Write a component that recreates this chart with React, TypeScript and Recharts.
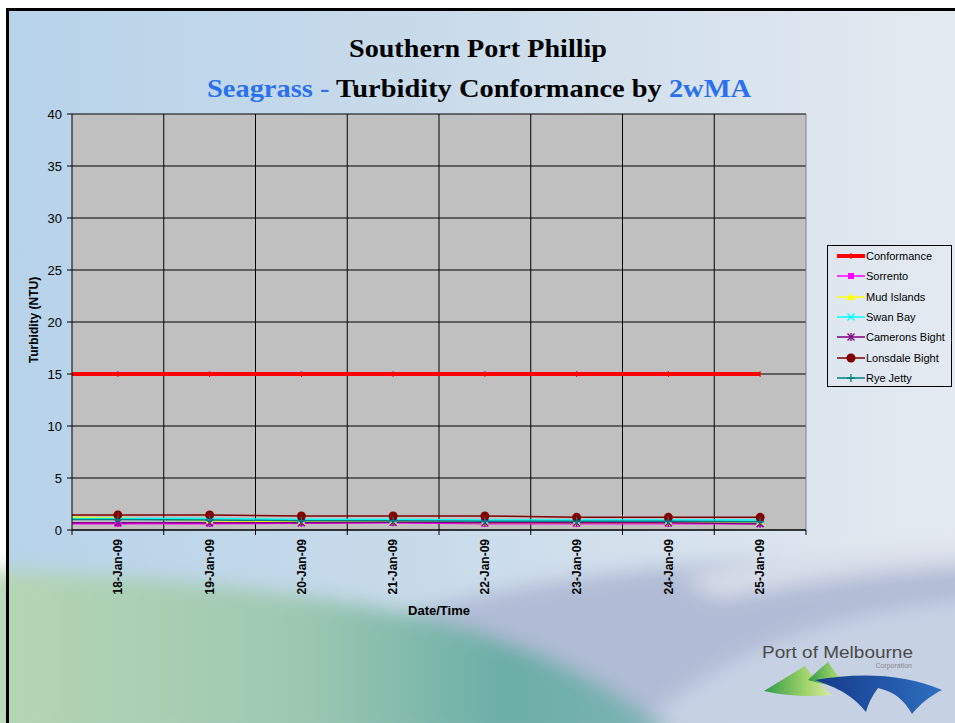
import React from "react";
import { LineChart, Line, XAxis, YAxis, CartesianGrid, ReferenceLine } from "recharts";

// dates on the category axis; the first one sits just off the left edge
const dates = ["17-Jan-09", "18-Jan-09", "19-Jan-09", "20-Jan-09", "21-Jan-09", "22-Jan-09", "23-Jan-09", "24-Jan-09", "25-Jan-09"];
const yTicks = [0, 5, 10, 15, 20, 25, 30, 35, 40];

const conformance = [15, 15, 15, 15, 15, 15, 15, 15, 15];
const sorrento = [0.6, 0.6, 0.6, 0.65, 0.7, 0.6, 0.6, 0.6, 0.6];
const mudIslands = [1.3, 1.15, 0.9, 0.8, 0.8, 0.7, 0.7, 0.7, 0.8];
const swanBay = [1.1, 1.1, 1.1, 1.0, 1.0, 0.95, 0.95, 0.95, 0.95];
const cameronsBight = [0.7, 0.7, 0.7, 0.7, 0.75, 0.7, 0.7, 0.7, 0.6];
const lonsdaleBight = [1.45, 1.45, 1.45, 1.35, 1.35, 1.35, 1.22, 1.22, 1.22];
const ryeJetty = [1.0, 1.0, 0.95, 0.9, 0.9, 0.85, 0.85, 0.85, 0.8];

const data = dates.map((d, i) => ({
  pos: i - 1,
  date: d,
  conformance: conformance[i],
  sorrento: sorrento[i],
  mudIslands: mudIslands[i],
  swanBay: swanBay[i],
  cameronsBight: cameronsBight[i],
  lonsdaleBight: lonsdaleBight[i],
  ryeJetty: ryeJetty[i],
}));

const shown = dates.slice(1);
// label ticks at category centres, tick marks at category boundaries
const xTicks: number[] = [-0.5];
shown.forEach((_, i) => xTicks.push(i, i + 0.5));

type Shape = "tick" | "square" | "triangle" | "cross" | "star" | "circle" | "plus";

function marker(shape: Shape, color: string, cx: number, cy: number, key?: string) {
  switch (shape) {
    case "tick":
      return <line key={key} x1={cx} x2={cx} y1={cy - 3} y2={cy + 3} stroke={color} strokeWidth={1} />;
    case "square":
      return <rect key={key} x={cx - 3} y={cy - 3} width={6} height={6} fill={color} />;
    case "triangle":
      return <polygon key={key} points={`${cx},${cy - 4} ${cx + 4},${cy + 3} ${cx - 4},${cy + 3}`} fill={color} />;
    case "cross":
      return (
        <g key={key} stroke={color} strokeWidth={1.3}>
          <line x1={cx - 3.5} y1={cy - 3.5} x2={cx + 3.5} y2={cy + 3.5} />
          <line x1={cx - 3.5} y1={cy + 3.5} x2={cx + 3.5} y2={cy - 3.5} />
        </g>
      );
    case "star":
      return (
        <g key={key} stroke={color} strokeWidth={1.3}>
          <line x1={cx - 3.5} y1={cy - 3.5} x2={cx + 3.5} y2={cy + 3.5} />
          <line x1={cx - 3.5} y1={cy + 3.5} x2={cx + 3.5} y2={cy - 3.5} />
          <line x1={cx} y1={cy - 4} x2={cx} y2={cy + 4} />
        </g>
      );
    case "circle":
      return <circle key={key} cx={cx} cy={cy} r={4.5} fill={color} />;
    case "plus":
    default:
      return (
        <g key={key} stroke={color} strokeWidth={1.3}>
          <line x1={cx - 4} y1={cy} x2={cx + 4} y2={cy} />
          <line x1={cx} y1={cy - 4} x2={cx} y2={cy + 4} />
        </g>
      );
  }
}

const series: { key: string; name: string; color: string; width: number; shape: Shape }[] = [
  { key: "conformance", name: "Conformance", color: "#ff0000", width: 4, shape: "tick" },
  { key: "sorrento", name: "Sorrento", color: "#ff00ff", width: 1.5, shape: "square" },
  { key: "mudIslands", name: "Mud Islands", color: "#ffff00", width: 1.5, shape: "triangle" },
  { key: "swanBay", name: "Swan Bay", color: "#00ffff", width: 1.5, shape: "cross" },
  { key: "cameronsBight", name: "Camerons Bight", color: "#800080", width: 1.5, shape: "star" },
  { key: "lonsdaleBight", name: "Lonsdale Bight", color: "#800000", width: 1.5, shape: "circle" },
  { key: "ryeJetty", name: "Rye Jetty", color: "#008080", width: 1.5, shape: "plus" },
];

const XTick = (props: any) => {
  const { x, y, payload } = props;
  const v = payload.value as number;
  if (!Number.isInteger(v)) {
    return <line x1={x} x2={x} y1={y} y2={y + 5} stroke="#000" />;
  }
  return (
    <text
      transform={`translate(${x},${y + 9}) rotate(-90)`}
      textAnchor="end"
      dy="0.35em"
      fontFamily="Liberation Sans, Arial, sans-serif"
      fontWeight="bold"
      fontSize={12}
      fill="#000"
    >
      {dates[v + 1]}
    </text>
  );
};

function Background() {
  return (
    <svg width={955} height={723} style={{ position: "absolute", left: 0, top: 0 }}>
      <defs>
        <linearGradient id="bgSky" x1="0" y1="0" x2="1" y2="0">
          <stop offset="0%" stopColor="#b7d3ea" />
          <stop offset="45%" stopColor="#c9dbea" />
          <stop offset="100%" stopColor="#e5eaf1" />
        </linearGradient>
        <linearGradient id="bgGreen" x1="0" y1="0" x2="1" y2="0">
          <stop offset="0%" stopColor="#b6d6b4" />
          <stop offset="45%" stopColor="#9dc8b1" />
          <stop offset="75%" stopColor="#6aaea7" />
          <stop offset="100%" stopColor="#7fb4b6" />
        </linearGradient>
        <filter id="soft" x="-10%" y="-10%" width="120%" height="120%">
          <feGaussianBlur stdDeviation="10" />
        </filter>
      </defs>
      <rect x={0} y={0} width={955} height={723} fill="#fff" />
      <rect x={6} y={8} width={960} height={730} fill="url(#bgSky)" />
      <g filter="url(#soft)">
        <path d="M 150 740 C 300 610, 550 560, 980 548 L 980 740 Z" fill="#b0bbd5" />
        <path d="M 680 580 C 790 552, 890 542, 980 540 L 980 566 C 890 570, 800 582, 720 598 Z" fill="#e3e7ee" opacity={0.8} />
        <path d="M 630 740 C 700 660, 820 610, 980 598 L 980 740 Z" fill="#c6d1e4" />
        <path d="M -10 570 C 120 574, 300 590, 430 618 C 520 640, 610 680, 680 740 L -10 740 Z" fill="url(#bgGreen)" />
      </g>
      <rect x={6} y={8} width={3} height={730} fill="#000" />
      <rect x={6} y={8} width={960} height={3} fill="#000" />
    </svg>
  );
}

function Titles() {
  return (
    <svg width={955} height={110} style={{ position: "absolute", left: 0, top: 0 }}>
      <text x={349} y={57} fontFamily="'Liberation Serif', serif" fontWeight="bold" fontSize={26} textLength={258} lengthAdjust="spacingAndGlyphs" fill="#000">
        Southern Port Phillip
      </text>
      <text x={207} y={97} fontFamily="'Liberation Serif', serif" fontWeight="bold" fontSize={26} textLength={544} lengthAdjust="spacingAndGlyphs">
        <tspan fill="#2a70f0">Seagrass - </tspan>
        <tspan fill="#000">Turbidity Conformance by </tspan>
        <tspan fill="#2a70f0">2wMA</tspan>
      </text>
    </svg>
  );
}

function Logo() {
  return (
    <svg width={955} height={723} style={{ position: "absolute", left: 0, top: 0 }}>
      <defs>
        <linearGradient id="logoGreen" x1="0" y1="0" x2="1" y2="0">
          <stop offset="0%" stopColor="#2f9a48" />
          <stop offset="60%" stopColor="#9fd36a" />
          <stop offset="100%" stopColor="#d9eaa0" />
        </linearGradient>
        <linearGradient id="logoBlue" x1="0" y1="0" x2="1" y2="0">
          <stop offset="0%" stopColor="#143a8a" />
          <stop offset="100%" stopColor="#2f6fc0" />
        </linearGradient>
      </defs>
      <text x={762} y={658} fontFamily="Liberation Sans, Arial, sans-serif" fontSize={17} fill="#4a4a4a" textLength={151} lengthAdjust="spacingAndGlyphs">
        Port of Melbourne
      </text>
      <text x={912} y={668} textAnchor="end" fontFamily="Liberation Sans, Arial, sans-serif" fontSize={7} fill="#8a8a8a">
        Corporation
      </text>
      <path d="M 764 691 C 778 682, 792 674, 805 666 C 812 676, 820 686, 832 695 C 810 697, 785 696, 764 691 Z" fill="url(#logoGreen)" />
      <path d="M 808 680 C 815 673, 822 667, 828 662 C 835 672, 842 682, 852 690 C 838 688, 822 684, 808 680 Z" fill="url(#logoGreen)" />
      <path d="M 815 680 C 860 672, 905 674, 942 690 C 930 696, 920 704, 912 714 C 904 700, 895 692, 878 688 C 872 696, 868 704, 866 712 C 856 700, 845 690, 815 680 Z" fill="url(#logoBlue)" />
    </svg>
  );
}

function LegendBox() {
  return (
    <div
      style={{
        position: "absolute",
        left: 827,
        top: 245,
        width: 125,
        height: 142,
        border: "1px solid #000",
        boxSizing: "border-box",
        fontFamily: "Liberation Sans, Arial, sans-serif",
        fontSize: 11,
        color: "#000",
        paddingTop: 0,
      }}
    >
      {series.map((s) => (
        <div key={s.key} style={{ display: "flex", alignItems: "center", height: 20.3, whiteSpace: "nowrap" }}>
          <svg width={29} height={12} style={{ marginLeft: 9 }}>
            <line x1={0} x2={28} y1={6} y2={6} stroke={s.color} strokeWidth={s.key === "conformance" ? 4 : 1.5} />
            {marker(s.shape, s.color, 14, 6)}
          </svg>
          <span>{s.name}</span>
        </div>
      ))}
    </div>
  );
}

export default function App() {
  return (
    <div style={{ position: "absolute", left: 0, top: 0, width: 955, height: 723, overflow: "hidden" }}>
      <Background />
      <Titles />
      <div style={{ position: "absolute", left: 0, top: 0 }}>
        <LineChart width={955} height={723} data={data} margin={{ top: 114, right: 149, bottom: 133, left: 32 }}>
          <CartesianGrid vertical={false} stroke="#000" fill="#c0c0c0" fillOpacity={1} />
          <XAxis
            dataKey="pos"
            type="number"
            domain={[-0.5, 7.5]}
            allowDataOverflow
            ticks={xTicks}
            interval={0}
            tick={<XTick />}
            tickLine={false}
            tickSize={0}
            tickMargin={0}
            axisLine={{ stroke: "#000" }}
            height={60}
          />
          <YAxis
            type="number"
            domain={[0, 40]}
            ticks={yTicks}
            interval={0}
            width={40}
            tickSize={5}
            tickMargin={5}
            tickLine={{ stroke: "#000" }}
            axisLine={{ stroke: "#000" }}
            tick={{ fill: "#000", fontSize: 13, fontFamily: "Liberation Sans, Arial, sans-serif" }}
          />
          {xTicks
            .filter((t) => !Number.isInteger(t) && t > -0.5)
            .map((t) => (
              <ReferenceLine key={t} x={t} stroke={t === 7.5 ? "#808080" : "#000"} strokeWidth={1} />
            ))}
          {series.map((s) => (
            <Line
              key={s.key}
              dataKey={s.key}
              name={s.name}
              stroke={s.color}
              strokeWidth={s.width}
              isAnimationActive={false}
              activeDot={false}
              dot={(p: any) => marker(s.shape, s.color, p.cx, p.cy, `${s.key}-${p.index}`)}
            />
          ))}
        </LineChart>
      </div>
      <svg width={955} height={723} style={{ position: "absolute", left: 0, top: 0, pointerEvents: "none" }}>
        <text
          transform="translate(34,320) rotate(-90)"
          textAnchor="middle"
          dy="0.35em"
          fontFamily="Liberation Sans, Arial, sans-serif"
          fontWeight="bold"
          fontSize={12}
          fill="#000"
        >
          Turbidity (NTU)
        </text>
        <text x={439} y={615} textAnchor="middle" fontFamily="Liberation Sans, Arial, sans-serif" fontWeight="bold" fontSize={13} fill="#000">
          Date/Time
        </text>
      </svg>
      <LegendBox />
      <Logo />
    </div>
  );
}
